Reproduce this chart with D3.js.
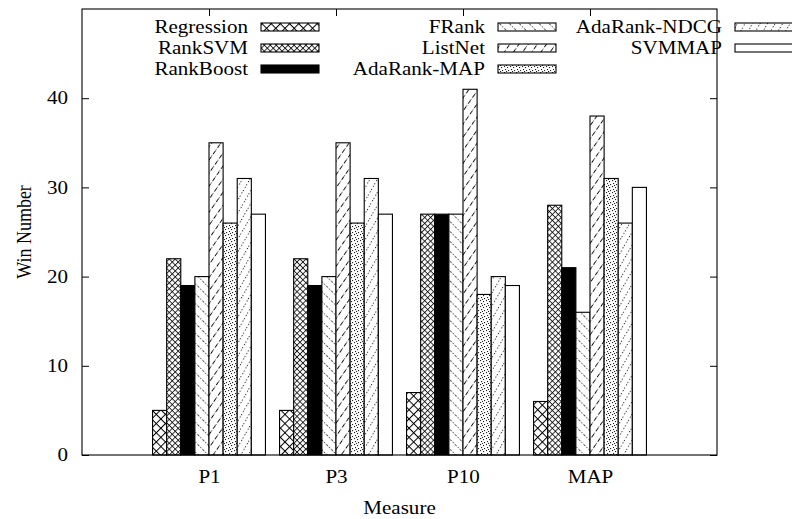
<!DOCTYPE html>
<html>
<head>
<meta charset="utf-8">
<title>win number</title>
<style>
  body { margin: 0; background: #fff; }
  text { font-family: "Liberation Serif", "Times New Roman", serif; font-size: 18px; fill: #000; }
</style>
</head>
<body>
<script src="https://cdn.jsdelivr.net/npm/d3@7"></script>
<script>
// data
var categories = ["P1", "P3", "P10", "MAP"];
var methods = ["Regression", "RankSVM", "RankBoost", "FRank", "ListNet", "AdaRank-MAP", "AdaRank-NDCG", "SVMMAP"];
var regression  = [5, 5, 7, 6];
var rankSVM     = [22, 22, 27, 28];
var rankBoost   = [19, 19, 27, 21];
var fRank       = [20, 20, 27, 16];
var listNet     = [35, 35, 41, 38];
var adaRankMAP  = [26, 26, 18, 31];
var adaRankNDCG = [31, 31, 20, 26];
var svmMAP      = [27, 27, 19, 30];
var yTicks = [0, 10, 20, 30, 40];

var series = [regression, rankSVM, rankBoost, fRank, listNet, adaRankMAP, adaRankNDCG, svmMAP];

var width = 792, height = 519;
var plotL = 82, plotR = 717, plotT = 9, plotB = 455;
var sx = 1.17; // text in the picture is a bit wider than tall

var svg = d3.select("body").append("svg")
    .attr("width", width)
    .attr("height", height);

var x = d3.scaleLinear().domain([-1, 4]).range([plotL, plotR]);
var y = d3.scaleLinear().domain([0, 50]).range([plotB, plotT]);
var unit = x(1) - x(0);
var barW = unit / 9;

// fill patterns, roughly the gnuplot ones
var defs = svg.append("defs");
function linePattern(id, size, angle, dash, color, w) {
    var p = defs.append("pattern").attr("id", id)
        .attr("patternUnits", "userSpaceOnUse")
        .attr("width", size).attr("height", size)
        .attr("patternTransform", "rotate(" + angle + ")");
    p.append("rect").attr("width", size).attr("height", size).attr("fill", "#fff");
    p.append("line").attr("x1", 0.5).attr("y1", 0).attr("x2", 0.5).attr("y2", size)
        .attr("stroke", color).attr("stroke-width", w || 1)
        .attr("stroke-dasharray", dash);
    return p;
}
function crossPattern(id, size, w) {
    var p = defs.append("pattern").attr("id", id)
        .attr("patternUnits", "userSpaceOnUse")
        .attr("width", size).attr("height", size)
        .attr("patternTransform", "rotate(45)");
    p.append("rect").attr("width", size).attr("height", size).attr("fill", "#fff");
    p.append("line").attr("x1", 0.5).attr("y1", 0).attr("x2", 0.5).attr("y2", size)
        .attr("stroke", "#000").attr("stroke-width", w);
    p.append("line").attr("x1", 0).attr("y1", 0.5).attr("x2", size).attr("y2", 0.5)
        .attr("stroke", "#000").attr("stroke-width", w);
}
crossPattern("p0", 6.5, 1);
crossPattern("p1", 4.2, 0.8);
linePattern("p3", 7, -45, "1.2,1.6", "#333", 0.9);
linePattern("p4", 7.5, 35, "4,2,1,2", "#000", 0.9);
linePattern("p6", 6.5, 30, "1.2,2.4", "#222", 1);
// scattered dots for AdaRank-MAP
var dots = defs.append("pattern").attr("id", "p5")
    .attr("patternUnits", "userSpaceOnUse")
    .attr("width", 6).attr("height", 6);
dots.append("rect").attr("width", 6).attr("height", 6).attr("fill", "#fff");
[[0, 0], [3, 1], [1, 3], [4, 4], [2, 5]].forEach(function(d) {
    dots.append("rect").attr("x", d[0]).attr("y", d[1]).attr("width", 1.1).attr("height", 1.1).attr("fill", "#222");
});

var fills = ["url(#p0)", "url(#p1)", "#000", "url(#p3)", "url(#p4)", "url(#p5)", "url(#p6)", "#fff"];

// axes (ticks inward, mirrored)
var ax = d3.axisBottom(x).tickValues([0, 1, 2, 3]).tickFormat(function(d) { return categories[d]; })
    .tickSize(-7).tickPadding(12);
var gx = svg.append("g").attr("transform", "translate(0," + plotB + ")").call(ax);
svg.append("g").attr("transform", "translate(0," + plotT + ")")
    .call(d3.axisTop(x).tickValues([0, 1, 2, 3]).tickFormat("").tickSize(-7));
var gy = svg.append("g").attr("transform", "translate(" + plotL + ",0)")
    .call(d3.axisLeft(y).tickValues(yTicks).tickSize(-7).tickPadding(14));
svg.append("g").attr("transform", "translate(" + plotR + ",0)")
    .call(d3.axisRight(y).tickValues(yTicks).tickFormat("").tickSize(-7));
svg.selectAll(".domain").remove();
svg.selectAll(".tick line").attr("stroke", "#000");
svg.selectAll(".tick text").attr("font-size", null).attr("font-family", null)
    .each(function() {
        var t = d3.select(this);
        t.attr("transform", "scale(" + sx + ",1)")
         .attr("x", (+t.attr("x") || 0) / sx);
    });
gx.selectAll(".tick text").attr("dy", "0.9em");

// bars
series.forEach(function(vals, j) {
    svg.append("g").selectAll("rect")
        .data(vals)
        .enter()
        .append("rect")
        .attr("x", function(d, i) { return x(i) + (j - 4) * barW; })
        .attr("width", barW)
        .attr("y", function(d) { return y(d); })
        .attr("height", function(d) { return y(0) - y(d); })
        .attr("fill", fills[j])
        .attr("stroke", "#000")
        .attr("stroke-width", 1.1);
});

// legend, three columns
var rowY = [27, 48, 69];
var legend = svg.append("g");
methods.forEach(function(m, j) {
    var col = Math.floor(j / 3), row = j % 3;
    var bx = 261 + 237 * col;
    legend.append("text")
        .attr("transform", "translate(" + (bx - 13) + "," + rowY[row] + ") scale(" + sx + ",1)")
        .attr("text-anchor", "end")
        .attr("dy", "0.35em")
        .text(m);
    legend.append("rect")
        .attr("x", bx).attr("y", rowY[row] - 4)
        .attr("width", 58).attr("height", 8)
        .attr("fill", fills[j])
        .attr("stroke", "#000").attr("stroke-width", 1.1);
});

// frame
svg.append("rect")
    .attr("x", plotL).attr("y", plotT)
    .attr("width", plotR - plotL).attr("height", plotB - plotT)
    .attr("fill", "none").attr("stroke", "#000").attr("stroke-width", 1.1);

// axis titles
svg.append("text")
    .attr("transform", "translate(" + ((plotL + plotR) / 2) + ",508) scale(" + sx + ",1)")
    .attr("text-anchor", "middle").attr("dy", "0.35em")
    .text("Measure");
svg.append("text")
    .attr("transform", "translate(24," + ((plotT + plotB) / 2) + ") rotate(-90) scale(1," + sx + ")")
    .attr("text-anchor", "middle").attr("dy", "0.35em")
    .text("Win Number");
</script>
</body>
</html>
